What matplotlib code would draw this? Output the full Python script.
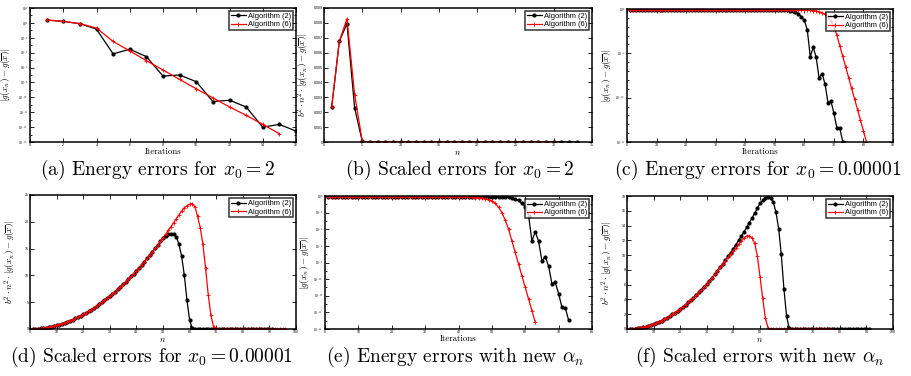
import numpy as np
import matplotlib
matplotlib.use("Agg")
import matplotlib.pyplot as plt
from matplotlib.ticker import FixedLocator, FuncFormatter, MultipleLocator, NullFormatter

plt.rcParams['mathtext.fontset'] = 'cm'
plt.rcParams['font.family'] = ['Liberation Sans', 'DejaVu Sans']

LABEL_ALG2 = 'Algorithm (2)'
LABEL_ALG6 = 'Algorithm (6)'

# ---------------- data ----------------
# (a) energy errors, x0 = 2
energy_a_alg2 = [2.4, 1.58, 0.79, 0.145, 6.8e-5, 2.9e-4, 2.95e-5, 7.2e-8, 1.0e-7,
                 1.26e-8, 2.7e-11, 4.1e-11, 5.1e-12, 1.0e-14, 2.3e-14, 2.95e-15]
energy_a_alg6 = [2.5, 1.58, 0.79, 0.20, 3.2e-3, 1.7e-4, 8.5e-6, 4.7e-7, 2.5e-8,
                 1.4e-9, 8.5e-11, 5.1e-12, 3.9e-13, 2.3e-14, 1.3e-15]

# (b) scaled errors, x0 = 2
scaled_b_alg2 = [0.00233, 0.00676, 0.00795, 0.00228, 0.00004,
                 0.0, 0.0, 0.0, 0.0, 0.0, 0.0, 0.0, 0.0, 0.0, 0.0,
                 0.0, 0.0, 0.0, 0.0, 0.0, 0.0, 0.0, 0.0, 0.0, 0.0,
                 0.0, 0.0, 0.0, 0.0, 0.0, 0.0, 0.0, 0.0]
scaled_b_alg6 = [0.00233, 0.00676, 0.00828, 0.00318, 0.00004,
                 0.0, 0.0, 0.0, 0.0, 0.0, 0.0, 0.0, 0.0, 0.0, 0.0,
                 0.0, 0.0, 0.0, 0.0, 0.0, 0.0, 0.0, 0.0, 0.0, 0.0,
                 0.0, 0.0, 0.0, 0.0, 0.0]

# plateau of the energy error for x0 = 0.00001
energy_plateau = [0.77, 0.77, 0.77, 0.77, 0.77, 0.77, 0.77, 0.77, 0.77, 0.77,
                  0.77, 0.77, 0.77, 0.77, 0.77, 0.77, 0.77, 0.77, 0.77, 0.77,
                  0.77, 0.77, 0.77, 0.77, 0.77, 0.77, 0.77, 0.77, 0.77, 0.77,
                  0.77, 0.77, 0.77, 0.77, 0.77, 0.77, 0.77, 0.77, 0.77, 0.77,
                  0.77, 0.77, 0.77, 0.77, 0.77, 0.77, 0.77, 0.77, 0.77, 0.77,
                  0.77, 0.77, 0.77, 0.77, 0.77, 0.77, 0.77, 0.77, 0.77, 0.77]

# (c)/(e) Algorithm (2), x0 = 0.00001
energy_alg2_tail = [0.76, 0.75, 0.73, 0.71, 0.67, 0.59, 0.46, 0.29, 0.13, 0.052,
                    4.5e-3, 4.0e-6, 5.0e-5, 3.5e-6, 1.6e-8, 5.0e-8, 3.5e-9, 2.8e-11,
                    4.0e-11, 1.8e-12, 4.0e-14, 3.5e-14, 1.1e-15]
energy_c_alg2 = energy_plateau[:50] + energy_alg2_tail
# (c) Algorithm (6)
energy_c_alg6 = energy_plateau[:60] + [0.75, 0.72, 0.67, 0.61, 0.51, 0.39, 0.25, 0.13, 0.05,
                                       1.1e-2, 1.1e-3, 7.1e-5, 4.5e-6, 2.8e-7, 1.8e-8, 1.1e-9,
                                       7.1e-11, 4.5e-12, 2.8e-13, 1.8e-14, 1.1e-15]
# (e) new alpha_n
energy_e_alg2 = energy_c_alg2
energy_e_alg6 = energy_plateau[:40] + [0.75, 0.73, 0.72, 0.69, 0.66, 0.61, 0.55, 0.47, 0.36,
                                       0.24, 0.126, 0.045, 0.01, 1.26e-3, 1.0e-4, 4.0e-6, 1.6e-7,
                                       6.3e-9, 2.5e-10, 1.0e-11, 4.0e-13, 1.6e-14, 6.3e-16]

# scaled errors, common rising part (n = 1..50)
scaled_common = [0.01, 0.03, 0.06, 0.11, 0.17, 0.24, 0.33, 0.44, 0.55, 0.68,
                 0.82, 0.98, 1.15, 1.33, 1.53, 1.74, 1.97, 2.20, 2.45, 2.72,
                 3.00, 3.29, 3.60, 3.92, 4.25, 4.60, 4.96, 5.33, 5.72, 6.12,
                 6.53, 6.96, 7.41, 7.86, 8.33, 8.81, 9.31, 9.82, 10.34, 10.88,
                 11.43, 12.00, 12.57, 13.16, 13.77, 14.39, 15.02, 15.67, 16.33, 17.00]
scaled_zeros = [0.0, 0.0, 0.0, 0.0, 0.0, 0.0, 0.0, 0.0, 0.0, 0.0,
                0.0, 0.0, 0.0, 0.0, 0.0, 0.0, 0.0, 0.0, 0.0, 0.0,
                0.0, 0.0, 0.0, 0.0, 0.0, 0.0, 0.0, 0.0, 0.0]

scaled_alg2 = scaled_common + [17.40, 17.70, 17.80, 17.70, 17.20, 15.80, 13.60, 10.10,
                               5.40, 1.70, 0.10, 0.002] + scaled_zeros[:29]
scaled_d_alg6 = scaled_common + [17.69, 18.39, 19.10, 19.83, 20.57, 21.30, 22.00, 22.60,
                                 23.00, 23.30, 23.40, 22.80, 21.00, 18.90, 15.80, 11.40,
                                 6.40, 2.60, 0.40, 0.05] + scaled_zeros[:26]
scaled_f_alg6 = scaled_common[:36] + [9.25, 9.70, 10.15, 10.60, 11.00, 11.45, 11.90, 12.30,
                                      12.60, 12.60, 12.35, 11.60, 9.90, 7.10, 4.20, 1.50,
                                      0.15, 0.01] + scaled_zeros[:23]

captions = [r'(a) Energy errors for $x_0 = 2$',
            r'(b) Scaled errors for $x_0 = 2$',
            r'(c) Energy errors for $x_0 = 0.00001$',
            r'(d) Scaled errors for $x_0 = 0.00001$',
            r'(e) Energy errors with new $\alpha_n$',
            r'(f) Scaled errors with new $\alpha_n$']

ENERGY_LABEL = r'$|g(x_n) - g(\overline{x})|$'
SCALED_LABEL = r'$b^2 \cdot n^2 \cdot |g(x_n) - g(\overline{x})|$'

# ---------------- figure ----------------
W, H = 912, 376
fig = plt.figure(figsize=(W / 100, H / 100), dpi=100)


def add_ax(l, t, r, b):
    return fig.add_axes([l / W, 1 - b / H, (r - l) / W, (b - t) / H])


TICK_FS = 2.6


def decorate(ax, xlabel, ylabel, ylabx):
    for s in ax.spines.values():
        s.set_linewidth(1.1)
    ax.tick_params(which='both', direction='in', top=True, right=True,
                   labelsize=TICK_FS, pad=1.0, width=0.6)
    ax.tick_params(which='major', length=2.6)
    ax.tick_params(which='minor', length=1.4)
    if xlabel == 'Iterations':
        ax.set_xlabel(xlabel, fontsize=6.3, family='cmr10', labelpad=0.4)
    else:
        ax.set_xlabel(xlabel, fontsize=6.3, labelpad=0.2)
    ax.set_ylabel(ylabel, fontsize=6.6)
    ax.yaxis.set_label_coords(ylabx, 0.5)
    leg = ax.legend(loc='upper right', fontsize=5.4, frameon=True, fancybox=False,
                    borderpad=0.25, handlelength=2.0, handletextpad=0.3,
                    labelspacing=0.15, borderaxespad=0.4)
    leg.get_frame().set_edgecolor('black')
    leg.get_frame().set_linewidth(1.1)


def draw(ax, y2, y6):
    n2 = np.arange(1, len(y2) + 1)
    n6 = np.arange(1, len(y6) + 1)
    ax.plot(n2, y2, color='black', lw=0.9, marker='o', ms=2.0, label=LABEL_ALG2)
    ax.plot(n6, y6, color='red', lw=0.9, marker='+', ms=2.3, mew=0.6, label=LABEL_ALG6)


def log_ticks(ax, lo, hi, step):
    major = 10.0 ** np.arange(lo, hi + 1, step)
    minor = [10.0 ** e for e in range(lo, hi + 1) if (e - lo) % step != 0]
    ax.yaxis.set_major_locator(FixedLocator(major))
    ax.yaxis.set_minor_locator(FixedLocator(minor))
    ax.yaxis.set_major_formatter(FuncFormatter(lambda v, p: r'$10^{%d}$' % round(np.log10(v))))
    ax.yaxis.set_minor_formatter(NullFormatter())


def lin_fmt(v, p):
    if abs(v) < 1e-12:
        return '0'
    if abs(v - round(v)) < 1e-9:
        return '%d' % round(v)
    return ('%.3f' % v).rstrip('0')


# (a)
axA = add_ax(30, 8, 296, 142)
draw(axA, energy_a_alg2, energy_a_alg6)
axA.set_yscale('log')
axA.set_xlim(0, 16)
axA.set_ylim(1e-16, 1e2)
axA.xaxis.set_major_locator(MultipleLocator(2))
log_ticks(axA, -16, 2, 2)
decorate(axA, 'Iterations', ENERGY_LABEL, -0.068)

# (b)
axB = add_ax(324, 8, 592, 142)
draw(axB, scaled_b_alg2, scaled_b_alg6)
axB.set_xlim(0, 35)
axB.set_ylim(0, 0.009)
axB.xaxis.set_major_locator(MultipleLocator(5))
axB.yaxis.set_major_locator(MultipleLocator(0.001))
axB.yaxis.set_major_formatter(FuncFormatter(lin_fmt))
decorate(axB, r'$n$', SCALED_LABEL, -0.05)

# (c)
axC = add_ax(627, 9, 893, 142)
draw(axC, energy_c_alg2, energy_c_alg6)
axC.set_yscale('log')
axC.set_xlim(0, 90)
axC.set_ylim(1e-15, 1e0)
axC.xaxis.set_major_locator(MultipleLocator(10))
log_ticks(axC, -15, 0, 5)
decorate(axC, 'Iterations', ENERGY_LABEL, -0.052)

# (d)
axD = add_ax(30, 195, 296, 329)
draw(axD, scaled_alg2, scaled_d_alg6)
axD.set_xlim(0, 100)
axD.set_ylim(0, 25)
axD.xaxis.set_major_locator(MultipleLocator(10))
axD.yaxis.set_major_locator(MultipleLocator(5))
axD.yaxis.set_major_formatter(FuncFormatter(lin_fmt))
decorate(axD, r'$n$', SCALED_LABEL, -0.045)

# (e)
axE = add_ax(325, 196, 592, 329)
draw(axE, energy_e_alg2, energy_e_alg6)
axE.set_yscale('log')
axE.set_xlim(0, 80)
axE.set_ylim(1e-16, 1e0)
axE.xaxis.set_major_locator(MultipleLocator(10))
log_ticks(axE, -16, 0, 2)
decorate(axE, 'Iterations', ENERGY_LABEL, -0.052)

# (f)
axF = add_ax(627, 196, 893, 329)
draw(axF, scaled_alg2, scaled_f_alg6)
axF.set_xlim(0, 100)
axF.set_ylim(0, 18)
axF.xaxis.set_major_locator(MultipleLocator(10))
axF.yaxis.set_major_locator(MultipleLocator(2))
axF.yaxis.set_major_formatter(FuncFormatter(lin_fmt))
decorate(axF, r'$n$', SCALED_LABEL, -0.045)

for ax in (axA, axB, axC, axD, axE, axF):
    ax.xaxis.set_major_formatter(FuncFormatter(lin_fmt))

caption_pos = [(157, 170), (460, 170), (758, 170), (152, 357), (455, 357), (760, 357)]
for (cx, cy), txt in zip(caption_pos, captions):
    fig.text(cx / W, 1 - cy / H, txt, ha='center', va='center', fontsize=14.0, family='cmr10')

fig.savefig('out.png', dpi=100)
